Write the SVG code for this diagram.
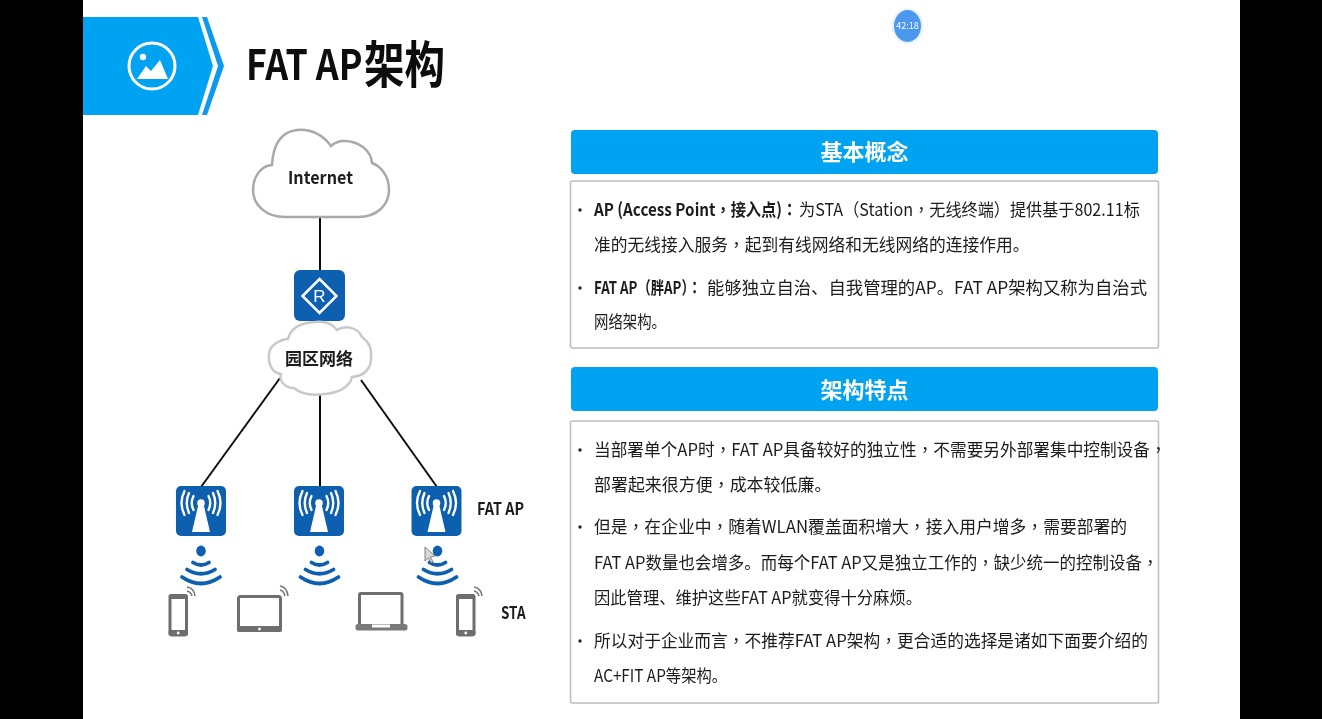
<svg xmlns="http://www.w3.org/2000/svg" xmlns:xlink="http://www.w3.org/1999/xlink" width="1322" height="719" viewBox="0 0 1322 719">
<style>
text{font-family:"Noto Sans CJK SC","Noto Sans",sans-serif}
.t{font-size:17.5px;fill:#1c1c1c}
.b{font-size:17.5px;font-weight:700;fill:#1c1c1c}
.p{font-family:"Noto Sans CJK TC",sans-serif}
.h{font-size:22px;font-weight:700;fill:#fff;text-anchor:middle}
.l{font-size:17px;font-weight:700;fill:#1a1a1a}
.bar{fill:#00a2f2}
.box{fill:#fff;stroke:#bdbdbd;stroke-width:1.5}
.wire{stroke:#111;stroke-width:2;fill:none}
.ic{fill:#0f5fb0}
.wa{fill:none;stroke:#fff;stroke-width:2.400;stroke-linecap:round}
.sg{fill:none;stroke:#0f5fb0;stroke-width:3.800;stroke-linecap:round}
.dev{fill:#fff;stroke:#6e6e6e;stroke-width:3}
.dw{fill:none;stroke:#777;stroke-width:1.6}
</style>
<defs>
<filter id="soft" x="-5%" y="-5%" width="110%" height="110%"><feGaussianBlur stdDeviation="0.35"/></filter>
<radialGradient id="tm" cx="0.5" cy="0.4" r="0.7"><stop offset="0" stop-color="#4b98ee"/><stop offset="0.8" stop-color="#4b98ee"/><stop offset="1" stop-color="#9cc8f2"/></radialGradient>
<g id="ap">
<rect x="0" y="0" width="50" height="50" rx="5" class="ic"/>
<circle cx="25" cy="17" r="3.800" fill="#fff"/>
<path d="M22.500 18H27.500L34 46H16Z" fill="#fff"/>
<path class="wa" d="M17.500 10Q14 17 17.500 24M13 7Q8.500 17 13 27M8.500 5Q2.500 17 8.500 29M32.500 10Q36 17 32.500 24M37 7Q41.500 17 37 27M41.500 5Q47.500 17 41.500 29"/>
</g>
<g id="sig">
<ellipse cx="0" cy="0" rx="4.800" ry="5.400" fill="#0f5fb0"/>
<path class="sg" d="M-8 11.500Q0 16.500 8 11.500M-14 18.500Q0 27 14 18.500M-19 26Q0 39 19 26"/>
</g>
<g id="phone">
<rect x="1.500" y="2" width="16.500" height="39" rx="2.500" class="dev"/>
<rect x="0" y="0" width="19.500" height="5" rx="2.500" fill="#6e6e6e"/>
<rect x="0" y="36" width="19.500" height="6" rx="2.500" fill="#6e6e6e"/>
<circle cx="9.750" cy="39" r="1.400" fill="#fff"/>
</g>
</defs>
<rect width="1322" height="719" fill="#fff"/>
<rect x="0" y="0" width="83" height="719" fill="#000"/>
<rect x="1240" y="0" width="82" height="719" fill="#000"/>
<g filter="url(#soft)">
<g id="header">
<path d="M83 17H198L213 66L198 115H83Z" fill="#00a2f2"/>
<path d="M202 17H207L224 66L207 115H202L218 66Z" fill="#0f9aee"/>
<circle cx="152" cy="66" r="23" fill="none" stroke="#fff" stroke-width="3"/>
<circle cx="143" cy="57" r="3.200" fill="#fff"/>
<path d="M137 79L146 66L151 71L160 60L168 79Z" fill="#fff"/>
<text transform="translate(246 80) scale(.85 1)" font-size="42" font-weight="700" fill="#0a0a0a">FAT AP</text>
<text transform="translate(364 83) scale(.81 1)" font-size="50" font-weight="700" fill="#0a0a0a">架构</text>
</g>
<g id="timer">
<ellipse cx="907.500" cy="26" rx="16" ry="18" fill="#eaf3fb"/>
<ellipse cx="907.500" cy="26" rx="13.500" ry="16" fill="url(#tm)"/>
<text x="907.500" y="29" font-size="9" fill="#fff" text-anchor="middle">42:18</text>
</g>
<g id="connectors">
<line class="wire" x1="320" y1="218" x2="320" y2="270"/>
<line class="wire" x1="280" y1="378" x2="201" y2="487"/>
<line class="wire" x1="320" y1="395" x2="320" y2="487"/>
<line class="wire" x1="361" y1="380" x2="437" y2="487"/>
</g>
<g id="internet">
<path d="M285 217H358C378 217 389 204 389 190C389 175 380 166 372 163C371 150 358 140 342 141C336 142 333 144 331 146C322 134 310 129 297 130C280 132 273 146 272 165C260 166 253 178 253 190C253 205 266 217 285 217Z" fill="#fff" stroke="#a9a9a9" stroke-width="2.500"/>
<text x="288" y="184" class="l" font-size="19" textLength="65" lengthAdjust="spacingAndGlyphs">Internet</text>
</g>
<g id="router">
<rect x="294" y="270" width="51" height="51" rx="6" class="ic"/>
<path d="M319.500 279L336.500 296L319.500 313L302.500 296Z" fill="none" stroke="#fff" stroke-width="2.500"/>
<text x="319.500" y="302" font-size="17" fill="#fff" text-anchor="middle" style="font-family:'Liberation Sans',sans-serif">R</text>
</g>
<g id="campus">
<path d="M294 388C284 388 279 380 281 374C272 373 268 364 269 354C270 345 279 340 288 339C290 330 298 323 315 322C325 321 333 324 337 330C345 325 358 327 362 337C369 342 372 350 371 358C371 369 364 376 352 377C350 387 338 393 325 394C311 396 301 394 294 388Z" fill="#fff" stroke="#c9c9c9" stroke-width="2.500"/>
<text x="285" y="365" class="l" textLength="68" lengthAdjust="spacingAndGlyphs">园区网络</text>
</g>
<g id="ap1"><use xlink:href="#ap" href="#ap" x="176" y="486"/><use xlink:href="#sig" href="#sig" x="201" y="551"/></g>
<g id="ap2"><use xlink:href="#ap" href="#ap" x="294" y="486"/><use xlink:href="#sig" href="#sig" x="319.500" y="551"/></g>
<g id="ap3"><use xlink:href="#ap" href="#ap" x="411.500" y="486"/><use xlink:href="#sig" href="#sig" x="437.500" y="551"/>
<path d="M425 547L425 561L428.500 558L431 563L433 562L430.500 557L435 556Z" fill="#d8d8d8" stroke="#666" stroke-width="0.800"/></g>
<text id="lbl-fatap" x="477" y="515" class="l" textLength="47" lengthAdjust="spacingAndGlyphs">FAT AP</text>
<g id="phone1"><use xlink:href="#phone" href="#phone" x="168.500" y="594"/><path class="dw" d="M187 591Q191 592 192 596M187 587Q194 588 195 596"/></g>
<g id="tablet">
<rect x="238.500" y="596.500" width="42" height="34" rx="2" class="dev"/>
<rect x="237" y="626" width="45" height="6" rx="2" fill="#6e6e6e"/>
<circle cx="259.500" cy="629" r="1.400" fill="#fff"/>
<path class="dw" d="M280 590Q284 591 285 596M280 586Q287 587 288 596"/>
</g>
<g id="laptop">
<rect x="359.500" y="593.500" width="42.500" height="33" rx="1.500" class="dev"/>
<rect x="355.500" y="624" width="52" height="6.500" rx="2.500" fill="#7a7a7a"/>
<rect x="372" y="624.500" width="18" height="3" fill="#fff"/>
</g>
<g id="phone2"><use xlink:href="#phone" href="#phone" x="456" y="594"/><path class="dw" d="M474 591Q478 592 479 596M474 587Q481 588 482 596"/></g>
<text id="lbl-sta" x="501" y="619" class="l" textLength="24.500" lengthAdjust="spacingAndGlyphs">STA</text>
<g id="panel-concept">
<rect x="571" y="130" width="587" height="44" rx="4" class="bar"/>
<text x="864.500" y="160" class="h">基本概念</text>
<rect x="570.500" y="181" width="588" height="167" rx="2" class="box"/>
<circle cx="580" cy="210" r="1.700" fill="#222"/><circle cx="580" cy="288" r="1.700" fill="#222"/>
<text transform="translate(594 216) scale(.87 1)" class="b">AP (Access Point<tspan class="p">，</tspan>接入点)<tspan class="p">：</tspan></text>
<text transform="translate(799 216) scale(.922 1)" class="t">为STA<tspan class="p">（</tspan>Station<tspan class="p">，</tspan>无线终端<tspan class="p">）</tspan>提供基于802.11标</text>
<text transform="translate(594 251) scale(.958 1)" class="t">准的无线接入服务<tspan class="p">，</tspan>起到有线网络和无线网络的连接作用。</text>
<text transform="translate(594 294) scale(.76 1)" class="b">FAT AP<tspan class="p">（</tspan>胖AP<tspan class="p">）：</tspan></text>
<text x="707" y="294" class="t" textLength="440" lengthAdjust="spacingAndGlyphs">能够独立自治、自我管理的AP。FAT AP架构又称为自治式</text>
<text x="594" y="328" class="t" textLength="72" lengthAdjust="spacingAndGlyphs">网络架构。</text>
</g>
<g id="panel-feature">
<rect x="571" y="367" width="587" height="44" rx="4" class="bar"/>
<text x="864.500" y="398" class="h">架构特点</text>
<rect x="570.500" y="421" width="588" height="282" rx="2" class="box"/>
<circle cx="580" cy="450" r="1.700" fill="#222"/><circle cx="580" cy="527" r="1.700" fill="#222"/><circle cx="580" cy="641" r="1.700" fill="#222"/>
<text transform="translate(594 456) scale(.953 1)" class="t">当部署单个AP时<tspan class="p">，</tspan>FAT AP具备较好的独立性<tspan class="p">，</tspan>不需要另外部署集中控制设备<tspan class="p">，</tspan></text>
<text transform="translate(594 491) scale(.97 1)" class="t">部署起来很方便<tspan class="p">，</tspan>成本较低廉。</text>
<text transform="translate(594 533) scale(.96 1)" class="t">但是<tspan class="p">，</tspan>在企业中<tspan class="p">，</tspan>随着WLAN覆盖面积增大<tspan class="p">，</tspan>接入用户增多<tspan class="p">，</tspan>需要部署的</text>
<text transform="translate(594 569) scale(.942 1)" class="t">FAT AP数量也会增多。而每个FAT AP又是独立工作的<tspan class="p">，</tspan>缺少统一的控制设备<tspan class="p">，</tspan></text>
<text x="594" y="604" class="t" textLength="328" lengthAdjust="spacingAndGlyphs">因此管理、维护这些FAT AP就变得十分麻烦。</text>
<text transform="translate(594 647) scale(.956 1)" class="t">所以对于企业而言<tspan class="p">，</tspan>不推荐FAT AP架构<tspan class="p">，</tspan>更合适的选择是诸如下面要介绍的</text>
<text x="594" y="682" class="t" textLength="133" lengthAdjust="spacingAndGlyphs">AC+FIT AP等架构。</text>
</g>
</g>
</svg>
